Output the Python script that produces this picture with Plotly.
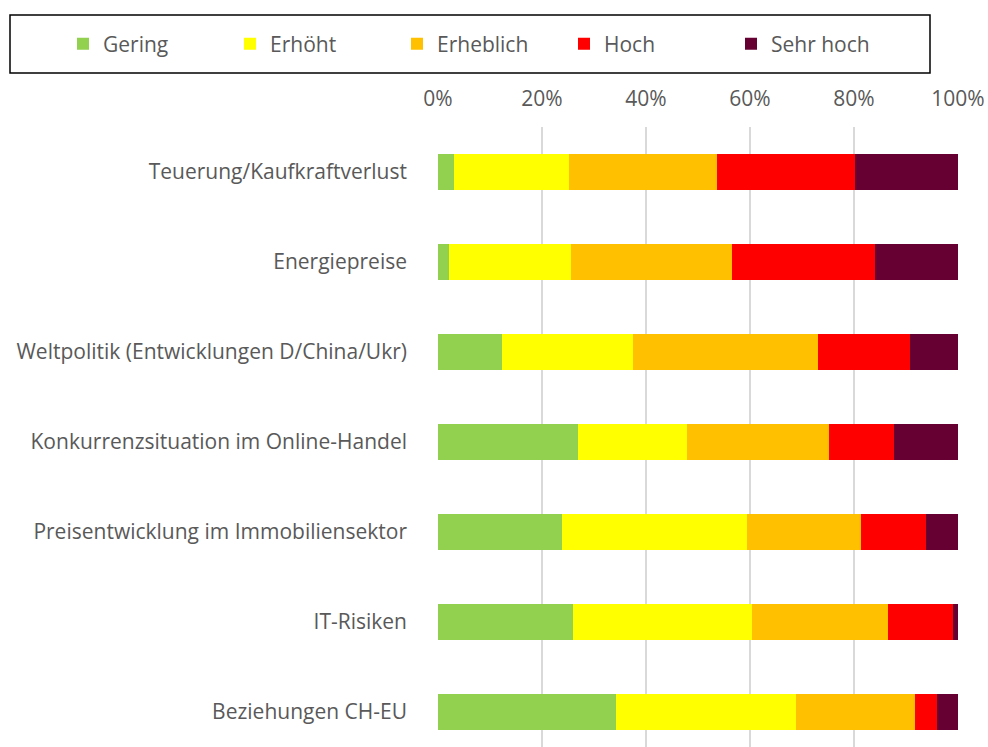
import plotly.graph_objects as go

categories = [
    "Teuerung/Kaufkraftverlust",
    "Energiepreise",
    "Weltpolitik (Entwicklungen D/China/Ukr)",
    "Konkurrenzsituation im Online-Handel",
    "Preisentwicklung im Immobiliensektor",
    "IT-Risiken",
    "Beziehungen CH-EU",
]
series_names = ["Gering", "Erhöht", "Erheblich", "Hoch", "Sehr hoch"]
gering = [3.1, 2.1, 12.4, 27.0, 23.9, 26.0, 34.3]
erhoeht = [22.1, 23.4, 25.1, 20.9, 35.6, 34.4, 34.6]
erheblich = [28.5, 31.0, 35.5, 27.2, 21.9, 26.1, 22.9]
hoch = [26.4, 27.6, 17.7, 12.5, 12.5, 12.6, 4.1]
sehr_hoch = [19.9, 15.9, 9.3, 12.4, 6.1, 0.9, 4.1]
tick_vals = [0, 20, 40, 60, 80, 100]
tick_text = ["0%", "20%", "40%", "60%", "80%", "100%"]

colors = ["#92D050", "#FFFF00", "#FFC000", "#FF0000", "#660033"]
series = [gering, erhoeht, erheblich, hoch, sehr_hoch]

FONT = "Open Sans"
FS = 21
GREY = "#595959"

fig = go.Figure()
for name, vals, col in zip(series_names, series, colors):
    fig.add_trace(go.Bar(
        y=categories, x=vals, name=name, orientation="h",
        marker=dict(color=col, line=dict(width=0)),
        width=0.41,
    ))

W, H = 988, 747
L, R, T, B = 438, 30, 127, 0
pw, ph = W - L - R, H - T - B

def px_x(p):
    return (p - L) / pw

def px_y(p):
    return 1 - (p - T) / ph

fig.update_layout(
    width=W, height=H,
    barmode="stack",
    margin=dict(l=L, r=R, t=T, b=B, autoexpand=False),
    plot_bgcolor="white", paper_bgcolor="white",
    font=dict(family=FONT, size=FS, color=GREY),
    showlegend=True,
    legend=dict(
        orientation="h",
        x=px_x(63), y=px_y(44), xanchor="left", yanchor="middle",
        entrywidth=122, entrywidthmode="pixels",
        itemwidth=30,
        font=dict(family=FONT, size=FS, color=GREY),
        bgcolor="rgba(0,0,0,0)",
        traceorder="normal",
    ),
    xaxis=dict(
        range=[0, 100], side="top",
        tickvals=tick_vals, ticktext=tick_text,
        showgrid=True, gridcolor="#D9D9D9", gridwidth=1.5,
        zeroline=False, showline=False, automargin=False,
        ticks="", ticklabelstandoff=16,
        tickfont=dict(family=FONT, size=FS, color=GREY),
    ),
    yaxis=dict(
        categoryorder="array", categoryarray=categories,
        range=[6.389, -0.5], automargin=False,
        showgrid=False, zeroline=False, showline=False,
        ticks="", ticklabelstandoff=30,
        tickfont=dict(family=FONT, size=FS, color=GREY),
    ),
    shapes=[dict(
        type="rect", xref="paper", yref="paper",
        x0=px_x(10), x1=px_x(930), y0=px_y(73), y1=px_y(15),
        line=dict(color="black", width=1.5), fillcolor="rgba(0,0,0,0)",
        layer="above",
    )],
)

fig.write_html(
    "out.html",
    config={"displayModeBar": False},
    post_script="document.body.style.margin='0';document.body.style.padding='0';",
)
